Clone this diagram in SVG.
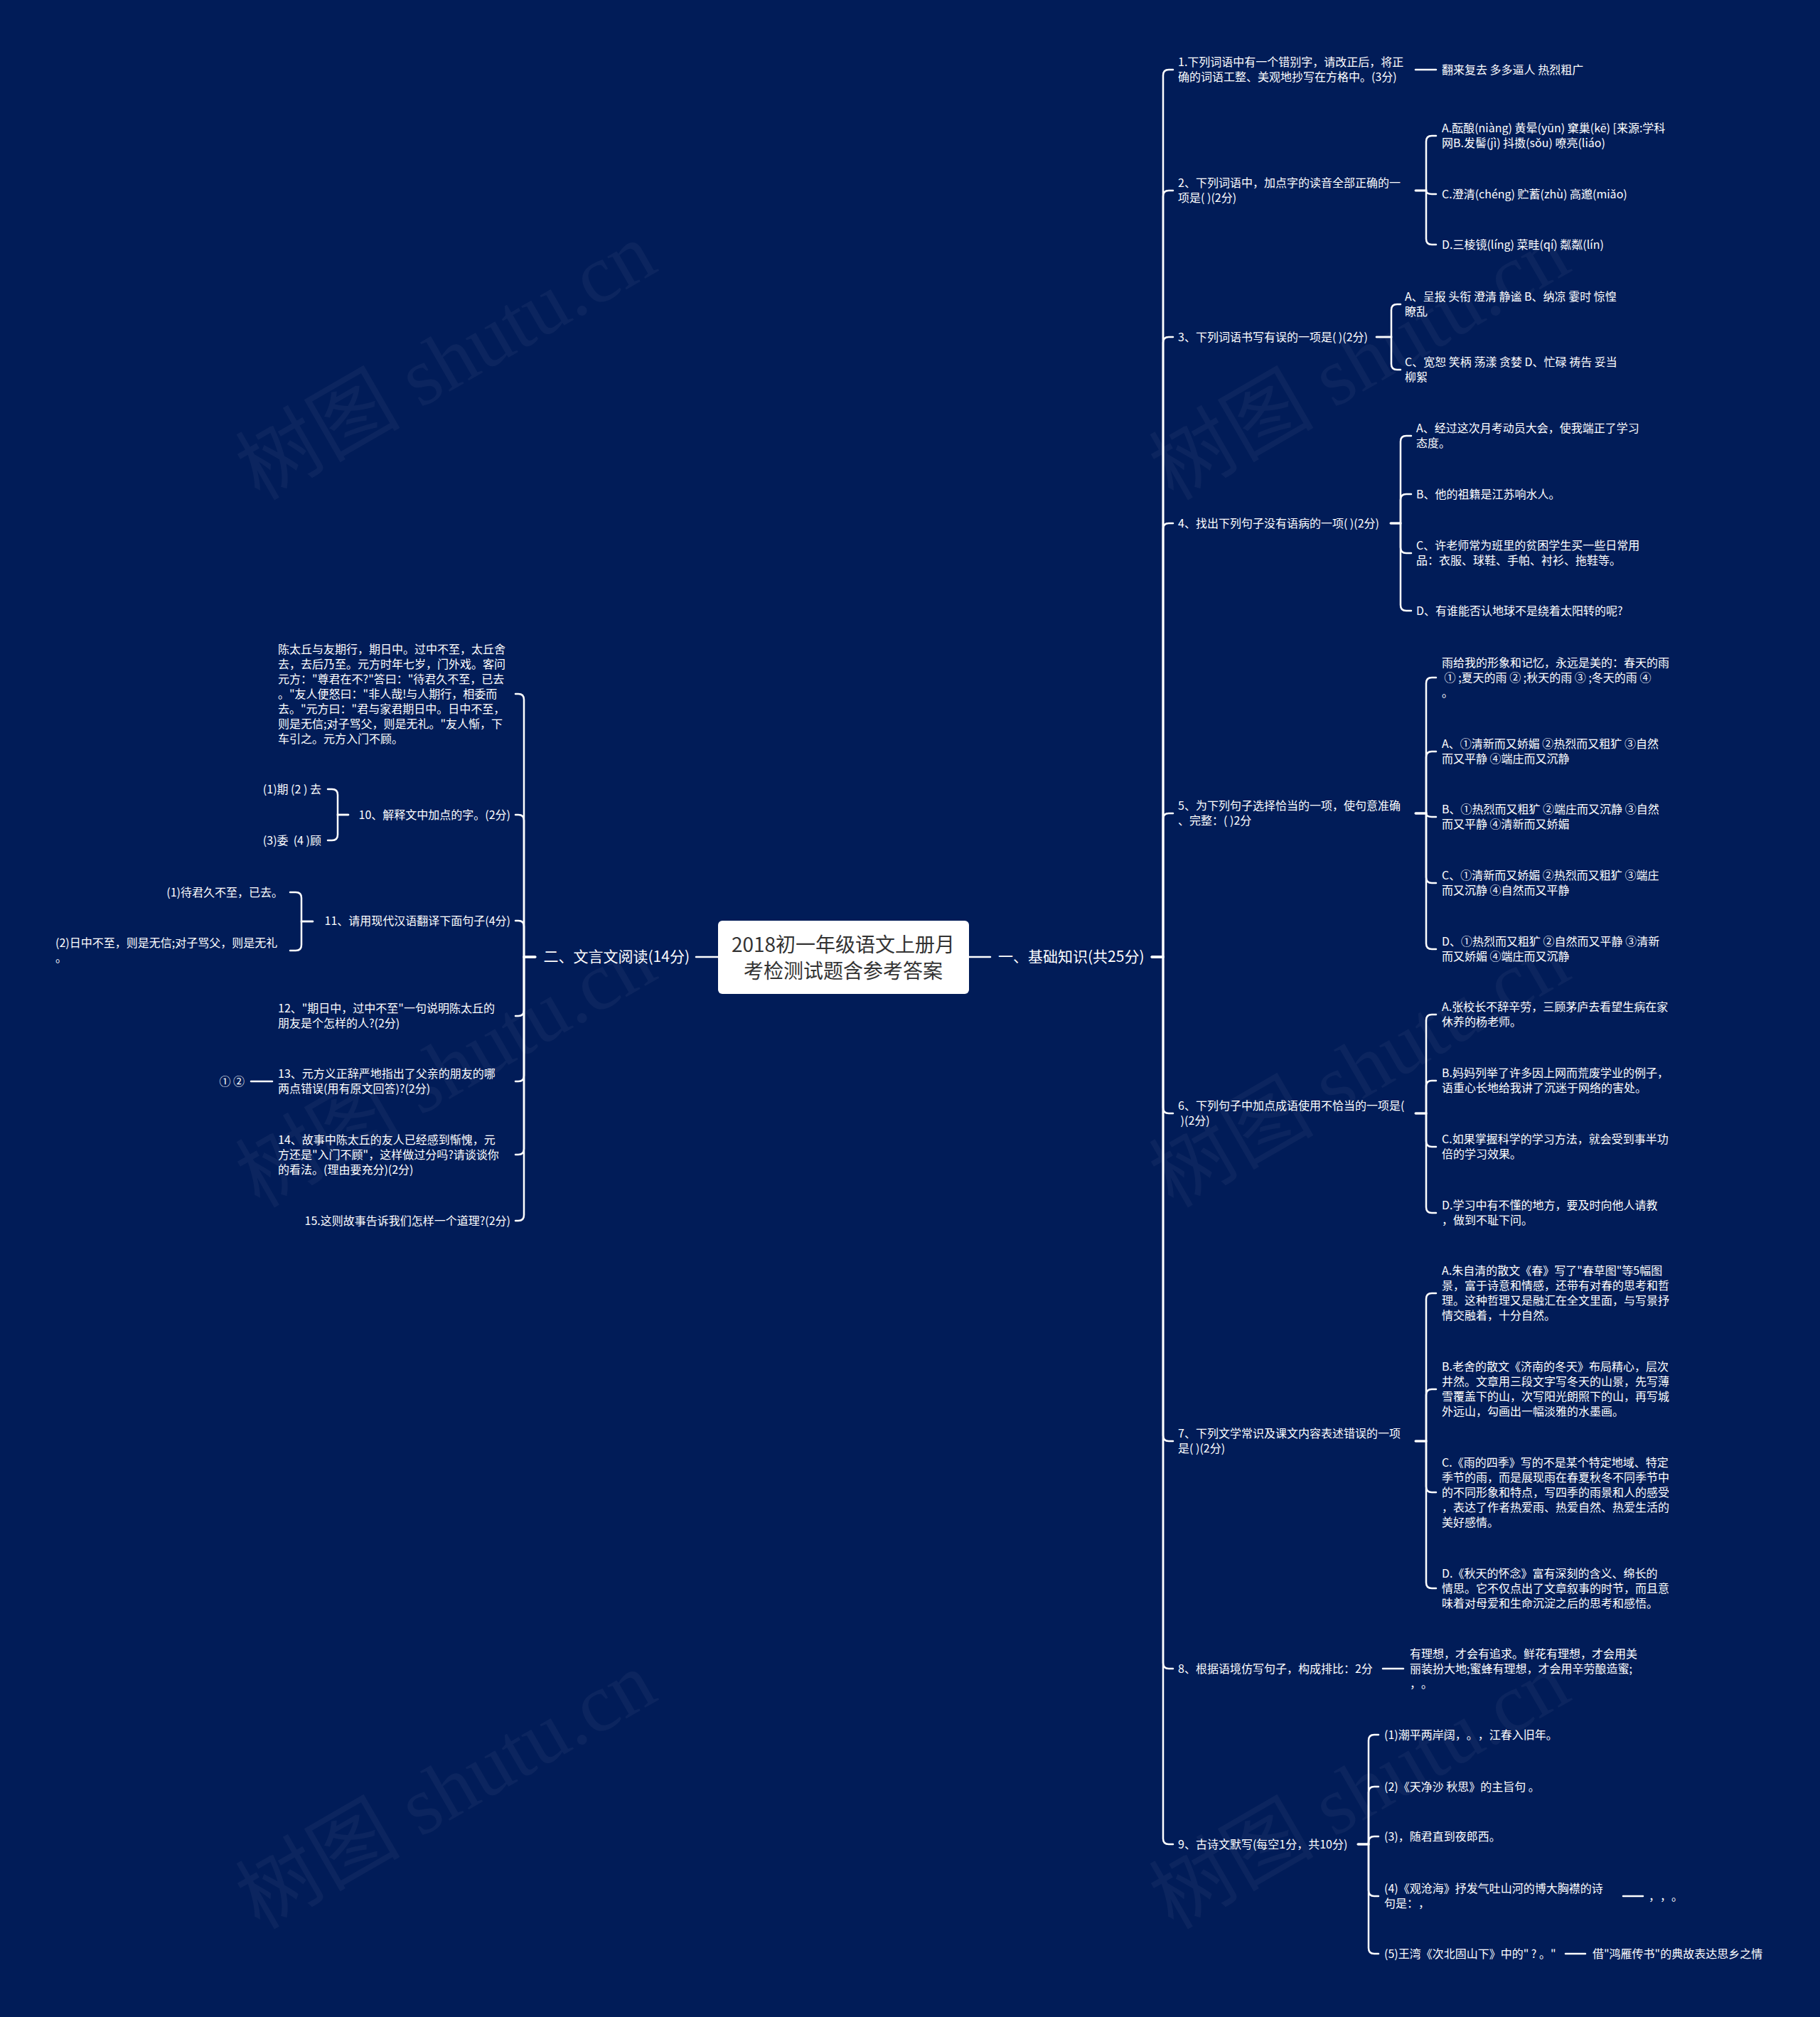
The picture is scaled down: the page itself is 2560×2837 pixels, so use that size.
<svg xmlns="http://www.w3.org/2000/svg" width="2560" height="2837" viewBox="0 0 2560 2837">
<style>
.t{font-family:"Noto Sans CJK SC","Noto Sans",sans-serif;font-size:16px;fill:#fff;white-space:pre;text-spacing-trim:space-all}
.e{text-anchor:end}
.b{font-size:21px}
.title{font-family:"Noto Sans CJK SC","Noto Sans",sans-serif;font-size:28px;fill:#333;text-anchor:middle}
.c{fill:none;stroke:#fff;stroke-width:2.5;stroke-linecap:round}
.wm{font-family:"Liberation Serif","Noto Sans CJK SC",serif;font-size:116px;fill:#9aa0b8;opacity:0.07}
</style>
<rect width="2560" height="2837" fill="#011c58"/>
<g id="watermarks">
<text class="wm" x="365" y="705" transform="rotate(-30 365 705)">树图 shutu.cn</text>
<text class="wm" x="1650" y="705" transform="rotate(-30 1650 705)">树图 shutu.cn</text>
<text class="wm" x="365" y="1700" transform="rotate(-30 365 1700)">树图 shutu.cn</text>
<text class="wm" x="1650" y="1700" transform="rotate(-30 1650 1700)">树图 shutu.cn</text>
<text class="wm" x="365" y="2715" transform="rotate(-30 365 2715)">树图 shutu.cn</text>
<text class="wm" x="1650" y="2715" transform="rotate(-30 1650 2715)">树图 shutu.cn</text>
</g>
<g id="connectors" class="c">
<path d="M1363 1346H1393"/>
<path d="M1010 1346H979"/>
<path d="M1620 1346H1636V106Q1636 98 1644 98H1650"/>
<path d="M1620 1346H1636V276Q1636 268 1644 268H1650"/>
<path d="M1620 1346H1636V482Q1636 474 1644 474H1650"/>
<path d="M1620 1346H1636V744Q1636 736 1644 736H1650"/>
<path d="M1620 1346H1636V1152Q1636 1144 1644 1144H1650"/>
<path d="M1620 1346H1636V1558Q1636 1566 1644 1566H1650"/>
<path d="M1620 1346H1636V2019Q1636 2027 1644 2027H1650"/>
<path d="M1620 1346H1636V2339Q1636 2347 1644 2347H1650"/>
<path d="M1620 1346H1636V2586Q1636 2594 1644 2594H1650"/>
<path d="M1991 98H2020"/>
<path d="M1991 268H2006V199Q2006 191 2014 191H2020"/>
<path d="M1991 268H2006Q2006 273 2014 273H2020"/>
<path d="M1991 268H2006V336Q2006 344 2014 344H2020"/>
<path d="M1936 474H1957V436Q1957 428 1965 428H1970"/>
<path d="M1936 474H1957V512Q1957 520 1965 520H1970"/>
<path d="M1956 736H1970V621Q1970 613 1978 613H1985"/>
<path d="M1956 736H1970V703Q1970 695 1978 695H1985"/>
<path d="M1956 736H1970V770Q1970 778 1978 778H1985"/>
<path d="M1956 736H1970V851Q1970 859 1978 859H1985"/>
<path d="M1991 1144H2006V961Q2006 953 2014 953H2020"/>
<path d="M1991 1144H2006V1065Q2006 1057 2014 1057H2020"/>
<path d="M1991 1144H2006Q2006 1149 2014 1149H2020"/>
<path d="M1991 1144H2006V1234Q2006 1242 2014 1242H2020"/>
<path d="M1991 1144H2006V1327Q2006 1335 2014 1335H2020"/>
<path d="M1991 1566H2006V1435Q2006 1427 2014 1427H2020"/>
<path d="M1991 1566H2006V1528Q2006 1520 2014 1520H2020"/>
<path d="M1991 1566H2006V1605Q2006 1613 2014 1613H2020"/>
<path d="M1991 1566H2006V1698Q2006 1706 2014 1706H2020"/>
<path d="M1991 2027H2006V1827Q2006 1819 2014 1819H2020"/>
<path d="M1991 2027H2006V1962Q2006 1954 2014 1954H2020"/>
<path d="M1991 2027H2006V2091Q2006 2099 2014 2099H2020"/>
<path d="M1991 2027H2006V2226Q2006 2234 2014 2234H2020"/>
<path d="M1945 2347H1974"/>
<path d="M1910 2594H1925V2448Q1925 2440 1933 2440H1939"/>
<path d="M1910 2594H1925V2521Q1925 2513 1933 2513H1939"/>
<path d="M1910 2594H1925V2591Q1925 2583 1933 2583H1939"/>
<path d="M1910 2594H1925V2659Q1925 2667 1933 2667H1939"/>
<path d="M1910 2594H1925V2740Q1925 2748 1933 2748H1939"/>
<path d="M2283 2667H2311"/>
<path d="M2202 2748H2230"/>
<path d="M753 1346H737V984Q737 976 729 976H725"/>
<path d="M753 1346H737V1154Q737 1146 729 1146H725"/>
<path d="M753 1346H737V1303Q737 1295 729 1295H725"/>
<path d="M753 1346H737V1421Q737 1429 729 1429H725"/>
<path d="M753 1346H737V1513Q737 1521 729 1521H725"/>
<path d="M753 1346H737V1616Q737 1624 729 1624H725"/>
<path d="M753 1346H737V1709Q737 1717 729 1717H725"/>
<path d="M490 1146H475V1118Q475 1110 467 1110H461"/>
<path d="M490 1146H475V1174Q475 1182 467 1182H461"/>
<path d="M440 1296H424V1263Q424 1255 416 1255H408"/>
<path d="M440 1296H424V1329Q424 1337 416 1337H408"/>
<path d="M383 1521H353"/>
</g>
<g id="root">
<rect x="1010" y="1295" width="353" height="103" rx="6" fill="#fff"/>
<text class="title" x="1186" y="1339">2018初一年级语文上册月</text>
<text class="title" x="1186" y="1376">考检测试题含参考答案</text>
</g>
<g id="b1"><text class="t b" x="1404" y="1353">一、基础知识(共25分)</text></g>
<g id="b2"><text class="t b e" x="970" y="1353">二、文言文阅读(14分)</text></g>
<g id="q1">
<text class="t" x="1657" y="93">1.下列词语中有一个错别字，请改正后，将正</text>
<text class="t" x="1657" y="114">确的词语工整、美观地抄写在方格中。(3分)</text>
</g>
<g id="q1a"><text class="t" x="2028" y="104">翻来复去 多多逼人 热烈粗广</text></g>
<g id="q2">
<text class="t" x="1657" y="263">2、下列词语中，加点字的读音全部正确的一</text>
<text class="t" x="1657" y="284">项是( )(2分)</text>
</g>
<g id="q2a">
<text class="t" x="2028" y="186">A.酝酿(niàng) 黄晕(yūn) 窠巢(kē) [来源:学科</text>
<text class="t" x="2028" y="207">网B.发髻(jì) 抖擞(sǒu) 嘹亮(liáo)</text>
</g>
<g id="q2c"><text class="t" x="2028" y="279">C.澄清(chéng) 贮蓄(zhù) 高邈(miǎo)</text></g>
<g id="q2d"><text class="t" x="2028" y="350">D.三棱镜(líng) 菜畦(qí) 粼粼(lín)</text></g>
<g id="q3"><text class="t" x="1657" y="480">3、下列词语书写有误的一项是( )(2分)</text></g>
<g id="q3a">
<text class="t" x="1976" y="423">A、呈报 头衔 澄清 静谧 B、纳凉 霎时 惊惶</text>
<text class="t" x="1976" y="444">瞭乱</text>
</g>
<g id="q3c">
<text class="t" x="1976" y="515">C、宽恕 笑柄 荡漾 贪婪 D、忙碌 祷告 妥当</text>
<text class="t" x="1976" y="536">柳絮</text>
</g>
<g id="q4"><text class="t" x="1657" y="742">4、找出下列句子没有语病的一项( )(2分)</text></g>
<g id="q4a">
<text class="t" x="1992" y="608">A、经过这次月考动员大会，使我端正了学习</text>
<text class="t" x="1992" y="629">态度。</text>
</g>
<g id="q4b"><text class="t" x="1992" y="701">B、他的祖籍是江苏响水人。</text></g>
<g id="q4c">
<text class="t" x="1992" y="773">C、许老师常为班里的贫困学生买一些日常用</text>
<text class="t" x="1992" y="794">品：衣服、球鞋、手帕、衬衫、拖鞋等。</text>
</g>
<g id="q4d"><text class="t" x="1992" y="865">D、有谁能否认地球不是绕着太阳转的呢?</text></g>
<g id="q5">
<text class="t" x="1657" y="1139">5、为下列句子选择恰当的一项，使句意准确</text>
<text class="t" x="1657" y="1160">、完整：( )2分</text>
</g>
<g id="q5q">
<text class="t" x="2028" y="938">雨给我的形象和记忆，永远是美的：春天的雨</text>
<text class="t" x="2028" y="959"> ① ;夏天的雨 ② ;秋天的雨 ③ ;冬天的雨 ④</text>
<text class="t" x="2028" y="980">。</text>
</g>
<g id="q5a">
<text class="t" x="2028" y="1052">A、①清新而又娇媚 ②热烈而又粗犷 ③自然</text>
<text class="t" x="2028" y="1073">而又平静 ④端庄而又沉静</text>
</g>
<g id="q5b">
<text class="t" x="2028" y="1144">B、①热烈而又粗犷 ②端庄而又沉静 ③自然</text>
<text class="t" x="2028" y="1165">而又平静 ④清新而又娇媚</text>
</g>
<g id="q5c">
<text class="t" x="2028" y="1237">C、①清新而又娇媚 ②热烈而又粗犷 ③端庄</text>
<text class="t" x="2028" y="1258">而又沉静 ④自然而又平静</text>
</g>
<g id="q5d">
<text class="t" x="2028" y="1330">D、①热烈而又粗犷 ②自然而又平静 ③清新</text>
<text class="t" x="2028" y="1351">而又娇媚 ④端庄而又沉静</text>
</g>
<g id="q6">
<text class="t" x="1657" y="1561">6、下列句子中加点成语使用不恰当的一项是(</text>
<text class="t" x="1657" y="1582"> )(2分)</text>
</g>
<g id="q6a">
<text class="t" x="2028" y="1422">A.张校长不辞辛劳，三顾茅庐去看望生病在家</text>
<text class="t" x="2028" y="1443">休养的杨老师。</text>
</g>
<g id="q6b">
<text class="t" x="2028" y="1515">B.妈妈列举了许多因上网而荒废学业的例子，</text>
<text class="t" x="2028" y="1536">语重心长地给我讲了沉迷于网络的害处。</text>
</g>
<g id="q6c">
<text class="t" x="2028" y="1608">C.如果掌握科学的学习方法，就会受到事半功</text>
<text class="t" x="2028" y="1629">倍的学习效果。</text>
</g>
<g id="q6d">
<text class="t" x="2028" y="1701">D.学习中有不懂的地方，要及时向他人请教</text>
<text class="t" x="2028" y="1722">，做到不耻下问。</text>
</g>
<g id="q7">
<text class="t" x="1657" y="2022">7、下列文学常识及课文内容表述错误的一项</text>
<text class="t" x="1657" y="2043">是( )(2分)</text>
</g>
<g id="q7a">
<text class="t" x="2028" y="1793">A.朱自清的散文《春》写了"春草图"等5幅图</text>
<text class="t" x="2028" y="1814">景，富于诗意和情感，还带有对春的思考和哲</text>
<text class="t" x="2028" y="1835">理。这种哲理又是融汇在全文里面，与写景抒</text>
<text class="t" x="2028" y="1856">情交融着，十分自然。</text>
</g>
<g id="q7b">
<text class="t" x="2028" y="1928">B.老舍的散文《济南的冬天》布局精心，层次</text>
<text class="t" x="2028" y="1949">井然。文章用三段文字写冬天的山景，先写薄</text>
<text class="t" x="2028" y="1970">雪覆盖下的山，次写阳光朗照下的山，再写城</text>
<text class="t" x="2028" y="1991">外远山，勾画出一幅淡雅的水墨画。</text>
</g>
<g id="q7c">
<text class="t" x="2028" y="2063">C.《雨的四季》写的不是某个特定地域、特定</text>
<text class="t" x="2028" y="2084">季节的雨，而是展现雨在春夏秋冬不同季节中</text>
<text class="t" x="2028" y="2105">的不同形象和特点，写四季的雨景和人的感受</text>
<text class="t" x="2028" y="2126">，表达了作者热爱雨、热爱自然、热爱生活的</text>
<text class="t" x="2028" y="2147">美好感情。</text>
</g>
<g id="q7d">
<text class="t" x="2028" y="2219">D.《秋天的怀念》富有深刻的含义、绵长的</text>
<text class="t" x="2028" y="2240">情思。它不仅点出了文章叙事的时节，而且意</text>
<text class="t" x="2028" y="2261">味着对母爱和生命沉淀之后的思考和感悟。</text>
</g>
<g id="q8"><text class="t" x="1657" y="2353">8、根据语境仿写句子，构成排比：2分</text></g>
<g id="q8a">
<text class="t" x="1983" y="2332">有理想，才会有追求。鲜花有理想，才会用美</text>
<text class="t" x="1983" y="2353">丽装扮大地;蜜蜂有理想，才会用辛劳酿造蜜;</text>
<text class="t" x="1983" y="2374">，。</text>
</g>
<g id="q9"><text class="t" x="1657" y="2600">9、古诗文默写(每空1分，共10分)</text></g>
<g id="q9-1"><text class="t" x="1947" y="2446">(1)潮平两岸阔，。，江春入旧年。</text></g>
<g id="q9-2"><text class="t" x="1947" y="2519">(2)《天净沙 秋思》的主旨句 。</text></g>
<g id="q9-3"><text class="t" x="1947" y="2589">(3)，随君直到夜郎西。</text></g>
<g id="q9-4">
<text class="t" x="1947" y="2662">(4)《观沧海》抒发气吐山河的博大胸襟的诗</text>
<text class="t" x="1947" y="2683">句是：，</text>
</g>
<g id="q9-4a"><text class="t" x="2319" y="2673">，，。</text></g>
<g id="q9-5"><text class="t" x="1947" y="2754">(5)王湾《次北固山下》中的" ? 。"</text></g>
<g id="q9-5a"><text class="t" x="2240" y="2754">借"鸿雁传书"的典故表达思乡之情</text></g>
<g id="passage">
<text class="t" x="391" y="919">陈太丘与友期行，期日中。过中不至，太丘舍</text>
<text class="t" x="391" y="940">去，去后乃至。元方时年七岁，门外戏。客问</text>
<text class="t" x="391" y="961">元方："尊君在不?"答曰："待君久不至，已去</text>
<text class="t" x="391" y="982">。"友人便怒曰："非人哉!与人期行，相委而</text>
<text class="t" x="391" y="1003">去。"元方曰："君与家君期日中。日中不至，</text>
<text class="t" x="391" y="1024">则是无信;对子骂父，则是无礼。"友人惭，下</text>
<text class="t" x="391" y="1045">车引之。元方入门不顾。</text>
</g>
<g id="q10"><text class="t e" x="718" y="1152">10、解释文中加点的字。(2分)</text></g>
<g id="q10a"><text class="t e" x="452" y="1116">(1)期 (2 ) 去</text></g>
<g id="q10b"><text class="t e" x="452" y="1188">(3)委  (4 )顾</text></g>
<g id="q11"><text class="t e" x="718" y="1301">11、请用现代汉语翻译下面句子(4分)</text></g>
<g id="q11a"><text class="t e" x="398" y="1261">(1)待君久不至，已去。</text></g>
<g id="q11b">
<text class="t" x="78" y="1332">(2)日中不至，则是无信;对子骂父，则是无礼</text>
<text class="t" x="78" y="1353">。</text>
</g>
<g id="q12">
<text class="t" x="391" y="1424">12、"期日中，过中不至"一句说明陈太丘的</text>
<text class="t" x="391" y="1445">朋友是个怎样的人?(2分)</text>
</g>
<g id="q13">
<text class="t" x="391" y="1516">13、元方义正辞严地指出了父亲的朋友的哪</text>
<text class="t" x="391" y="1537">两点错误(用有原文回答)?(2分)</text>
</g>
<g id="q13a"><text class="t e" x="344" y="1527">① ②</text></g>
<g id="q14">
<text class="t" x="391" y="1609">14、故事中陈太丘的友人已经感到惭愧，元</text>
<text class="t" x="391" y="1630">方还是"入门不顾"，这样做过分吗?请谈谈你</text>
<text class="t" x="391" y="1651">的看法。(理由要充分)(2分)</text>
</g>
<g id="q15"><text class="t e" x="718" y="1723">15.这则故事告诉我们怎样一个道理?(2分)</text></g>
</svg>
